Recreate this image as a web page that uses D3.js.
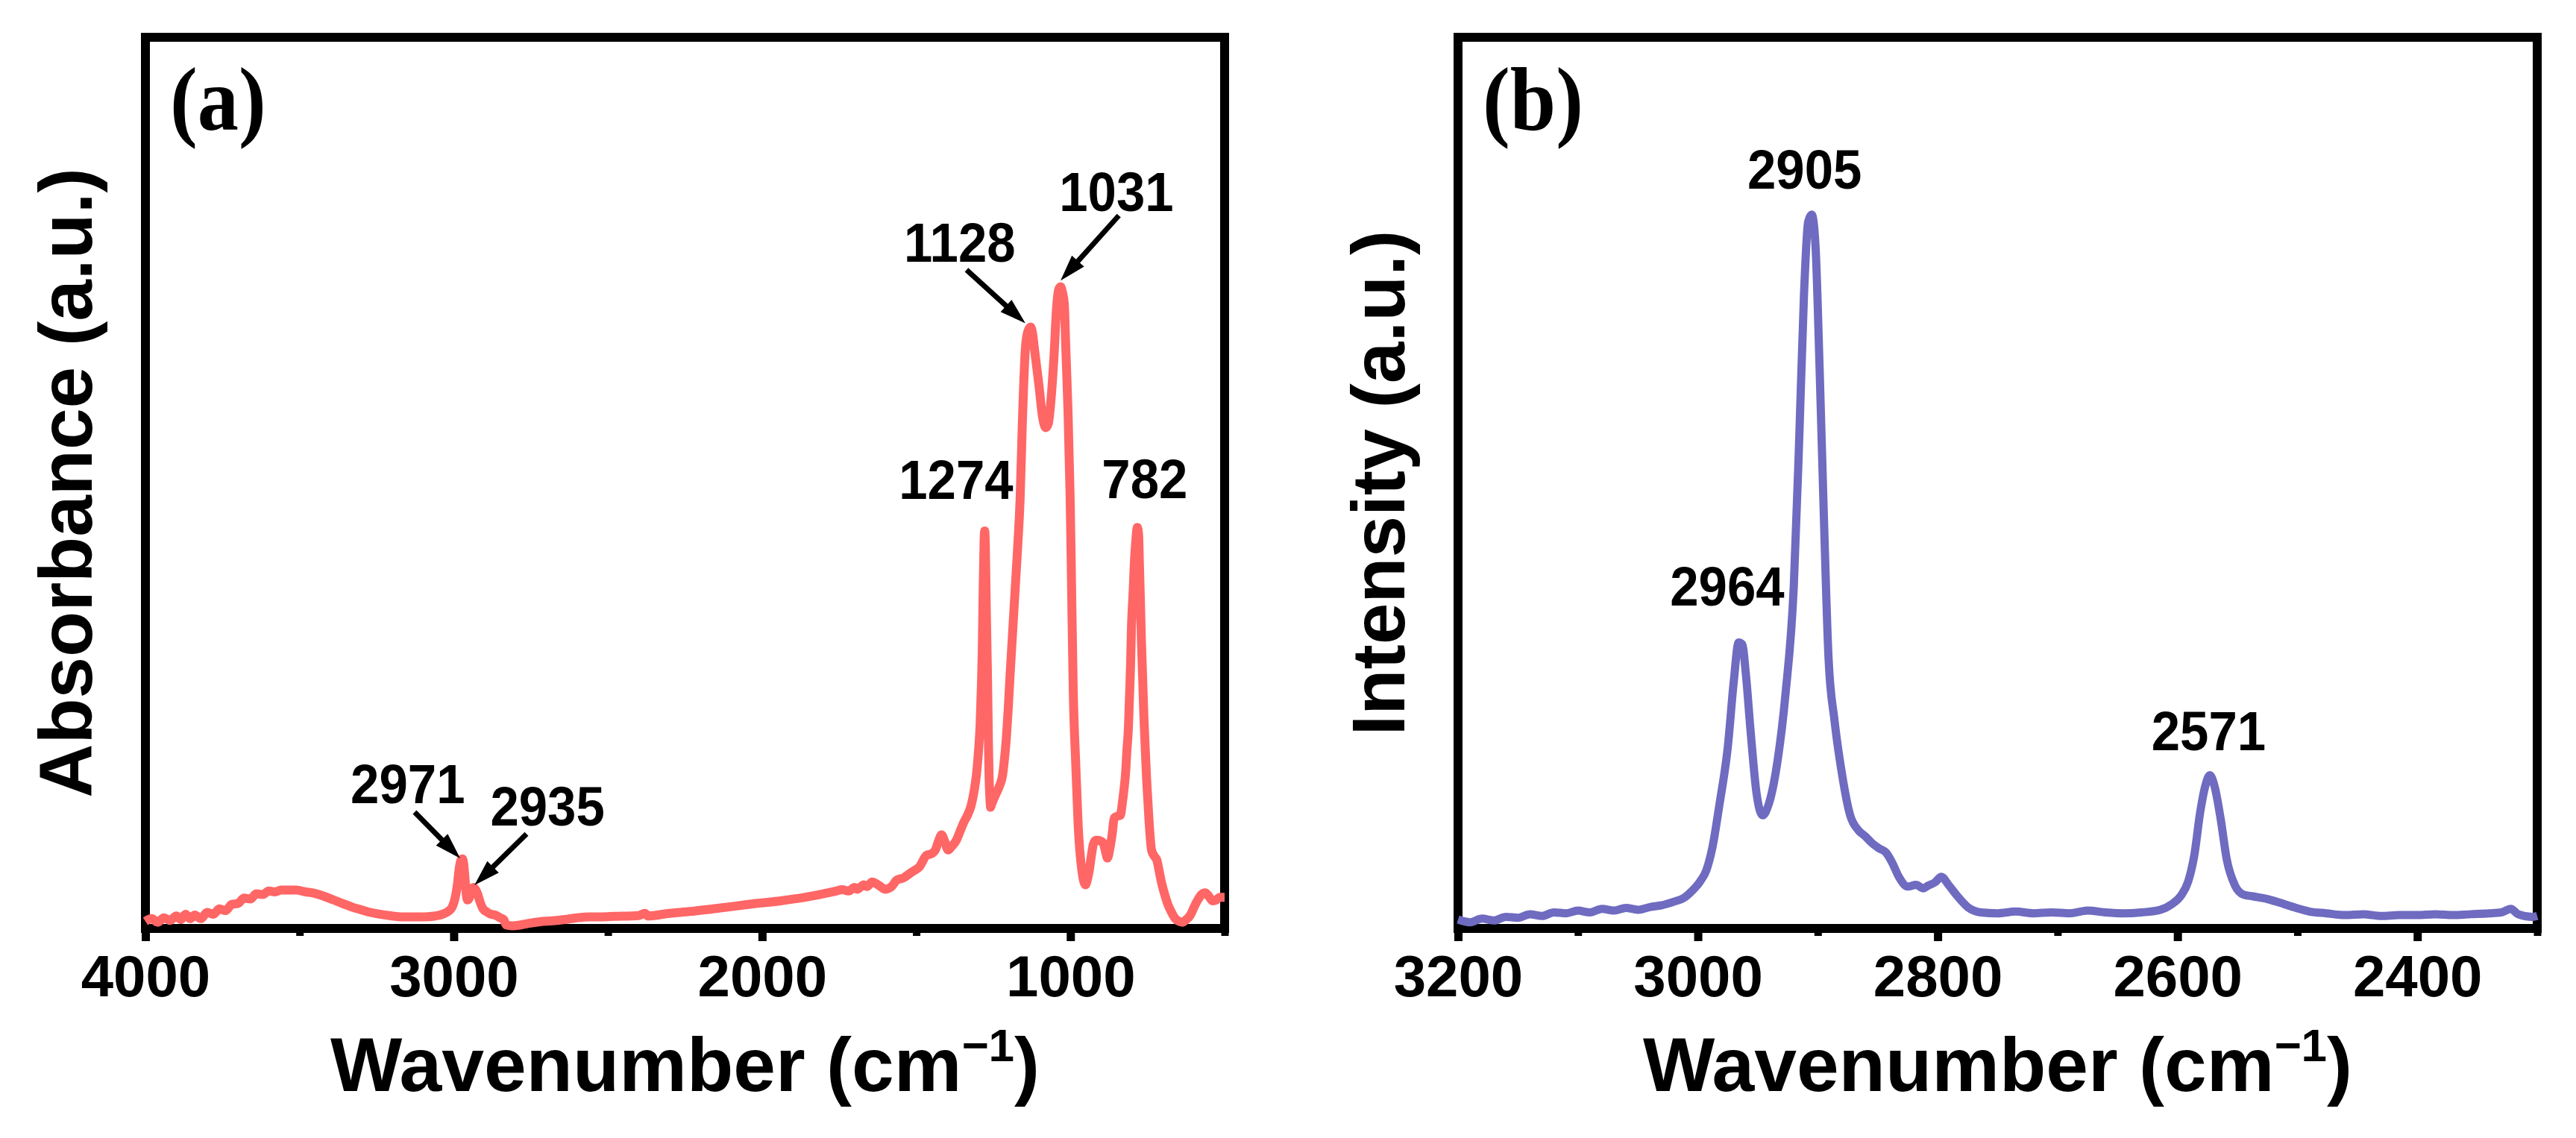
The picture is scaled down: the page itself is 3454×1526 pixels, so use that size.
<!DOCTYPE html>
<html><head><meta charset="utf-8">
<script src="https://cdn.jsdelivr.net/npm/d3@7"></script>
<style>body{margin:0;background:#fff}</style>
</head><body><svg id="c" width="3454" height="1526"></svg>
<script>
// ---------- DATA ----------
// (a) FTIR absorbance spectrum
const irWavenumber = [4000,3980,3960,3940,3920,3900,3885,3870,3855,3840,3820,3800,3780,3760,3740,3720,3700,3680,3660,3640,3620,3600,3580,3560,3540,3510,3480,3460,3420,3390,3360,3330,3300,3270,3240,3200,3170,3130,3094,3060,3036,3015,3005,2995,2988,2982,2976,2972,2968,2964,2960,2956,2950,2944,2936,2930,2922,2915,2905,2895,2880,2865,2850,2838,2830,2810,2790,2760,2720,2680,2640,2600,2560,2520,2480,2400,2380,2370,2300,2235,2160,2088,2020,1940,1860,1800,1760,1740,1720,1700,1692,1670,1660,1643,1620,1600,1580,1564,1540,1520,1506,1490,1467,1450,1438,1428,1418,1408,1397,1385,1370,1358,1346,1334,1322,1312,1305,1298,1293,1289,1286,1283,1280,1278,1276,1273,1269,1266,1264,1261,1259,1255,1248,1240,1230,1220,1214,1208,1202,1196,1190,1184,1178,1172,1163,1156,1146,1138,1129,1123,1117,1102,1090,1080,1072,1066,1054,1044,1038,1032,1026,1020,1015,1008,1001,998,995,991,983,975,963,951,945,939,932,926,918,911,902,894,886,880,872,865,858,848,838,832,826,821,817,812,809,805,802,797,793,788,783,779,776,773,770,766,762,757,753,749,743,737,728,720,712,705,695,684,672,660,648,636,624,611,599,587,575,563,551,539,527,515,500];
const irAbsorbance = [0.8,1.1,0.7,1.2,0.9,1.4,1.0,1.6,1.1,1.5,1.1,1.8,1.6,2.2,2.0,2.7,2.8,3.4,3.3,3.9,3.8,4.2,4.1,4.3,4.3,4.3,4.1,4.0,3.6,3.2,2.8,2.4,2.1,1.8,1.6,1.4,1.3,1.3,1.3,1.4,1.6,2.0,2.4,3.5,5.0,6.8,7.7,7.8,7.3,5.8,4.0,3.2,3.4,4.0,4.6,4.4,3.8,3.0,2.2,1.9,1.6,1.5,1.2,1.0,0.4,0.3,0.35,0.55,0.75,0.85,1.0,1.2,1.3,1.3,1.35,1.45,1.7,1.4,1.7,1.9,2.2,2.5,2.8,3.1,3.5,3.9,4.2,4.35,4.2,4.6,4.4,4.9,4.7,5.2,4.8,4.4,4.7,5.4,5.7,6.2,6.5,6.9,8.2,8.4,8.8,9.8,10.5,9.8,8.8,9.2,9.9,10.9,11.9,12.7,13.8,15.5,17.2,20.0,22.8,27.0,31.1,38.0,43.5,44.6,43.0,36.0,28.3,21.0,17.2,14.5,13.6,14.0,14.6,15.2,16.0,17.2,19.0,21.3,24.5,28.3,31.8,35.3,38.8,42.3,48.4,56.7,65.1,67.0,67.5,66.8,65.1,60.9,57.3,56.2,56.6,58.2,63.8,70.1,71.7,72.0,71.4,70.1,65.1,58.2,48.4,42.3,35.3,26.9,18.6,11.6,6.5,4.9,5.5,6.5,8.2,9.4,9.9,9.9,9.8,9.6,8.6,7.9,9.0,10.5,12.4,12.6,12.7,14.0,15.7,17.5,19.9,22.5,25.5,29.5,33.9,37.5,40.8,43.5,45.0,44.2,40.5,36.7,32.5,28.3,24.0,19.9,16.8,14.4,11.0,8.8,8.1,7.7,6.4,5.2,3.9,2.7,1.8,1.1,0.8,0.7,1.0,1.5,2.4,3.2,3.8,4.0,3.6,3.1,3.2,3.5,3.5];
const irMajorTicks = [4000,3000,2000,1000];
const irMinorTicks = [3500,2500,1500,500];
const irPeakText = ["2971","2935","1274","1128","1031","782"];
const irPeakLabelX = [3149,2696,1371,1359,851,759];
const irPeakLabelY = [14.06,11.55,48.2,74.8,80.5,48.3];
// arrows: [from wavenumber, from value, to wavenumber, to value]
const irArrowFromX = [3127,2764,1337,843];
const irArrowFromY = [13.05,10.6,73.9,80.0];
const irArrowToX = [2979,2933,1146,1032];
const irArrowToY = [7.87,4.85,67.9,72.7];

// (b) Raman spectrum
const ramanShift = [3200,3190,3180,3170,3160,3150,3140,3130,3120,3110,3100,3090,3080,3070,3060,3050,3040,3030,3020,3012,3005,2998,2993,2988,2982,2975,2970,2966,2963,2960,2956,2951,2946,2941,2934,2927,2920,2915.5,2911.5,2908,2905,2902,2898.5,2895,2891,2886,2880,2873,2866,2860,2855,2849,2843,2838,2832,2825,2818,2812,2808,2802,2797,2791,2784,2775,2764,2750,2735,2720,2705,2690,2675,2660,2645,2630,2614,2605,2597,2591,2586,2581,2577,2573,2569,2564,2559,2552,2545,2537,2525,2515,2501,2490,2476,2460,2445,2430,2415,2400,2385,2370,2355,2340,2330,2322,2316,2304,2300];
const ramanIntensity = [1.0,0.7,1.1,0.9,1.3,1.2,1.6,1.4,1.8,1.7,2.0,1.8,2.2,2.0,2.3,2.1,2.4,2.6,3.0,3.4,4.2,5.3,6.5,9.0,13.9,20.4,27.8,32.1,31.9,28.6,22.1,15.1,12.7,13.9,18.4,26.2,38.4,54.8,71.1,79.3,80.1,76.9,63.0,46.6,30.3,23.3,17.5,12.7,11.0,10.3,9.6,9.0,8.5,7.4,5.7,4.7,4.9,4.5,4.8,5.2,5.8,4.9,3.7,2.4,1.8,1.7,1.9,1.7,1.8,1.7,2.0,1.8,1.7,1.8,2.1,2.7,3.7,5.3,8.2,13.1,15.9,17.2,15.9,12.3,7.8,4.8,3.8,3.6,3.3,2.9,2.3,1.9,1.7,1.5,1.6,1.4,1.5,1.5,1.6,1.5,1.6,1.7,1.8,2.2,1.6,1.3,1.4];
const ramanMajorTicks = [3200,3000,2800,2600,2400];
const ramanMinorTicks = [3100,2900,2700,2500,2300];
const ramanPeakText = ["2964","2905","2571"];
const ramanPeakLabelX = [2975.5,2911,2574];
const ramanPeakLabelY = [36.2,83.0,20.0];

// ---------- DRAWING ----------
const svg = d3.select("#c");
svg.append("rect").attr("width",3454).attr("height",1526).attr("fill","#fff");
const SANS = "'Liberation Sans', Arial, Helvetica, sans-serif";
const SERIF = "'Liberation Serif', 'Times New Roman', serif";

function drawPanel(cfg){
  const g = svg.append("g");
  const x = d3.scaleLinear().domain(cfg.xDomain).range([cfg.left, cfg.right]);
  const y = d3.scaleLinear().domain([0,100]).range([cfg.bottom, cfg.top]);

  // frame
  g.append("rect").attr("x",cfg.left).attr("y",cfg.top)
    .attr("width",cfg.right-cfg.left).attr("height",cfg.bottom-cfg.top)
    .attr("fill","none").attr("stroke","#000").attr("stroke-width",12);

  // minor ticks
  const mn = g.append("g").attr("transform",`translate(0,${cfg.bottom})`)
    .call(d3.axisBottom(x).tickValues(cfg.minor).tickSize(10).tickFormat(""));
  mn.select(".domain").remove();
  mn.selectAll(".tick line").attr("stroke","#000").attr("stroke-width",10);
  mn.selectAll(".tick text").remove();

  // major ticks
  const mj = g.append("g").attr("transform",`translate(0,${cfg.bottom})`)
    .call(d3.axisBottom(x).tickValues(cfg.major).tickSize(17).tickFormat(d3.format("d")));
  mj.select(".domain").remove();
  mj.selectAll(".tick line").attr("stroke","#000").attr("stroke-width",11);
  mj.selectAll(".tick text").attr("y",91).attr("dy",0)
    .attr("font-family",SANS).attr("font-weight","bold").attr("font-size",78).attr("fill","#000");

  // spectrum line
  const pts = cfg.xs.map((v,i)=>[v,cfg.ys[i]]);
  g.append("path").datum(pts)
    .attr("d", d3.line().x(d=>x(d[0])).y(d=>y(d[1])).curve(d3.curveMonotoneX))
    .attr("fill","none").attr("stroke",cfg.color).attr("stroke-width",cfg.lw)
    .attr("stroke-linejoin","round");

  // peak labels
  cfg.labels.forEach((t,i)=>{
    g.append("text")
      .attr("transform",`translate(${x(cfg.labelX[i])},${y(cfg.labelY[i])}) scale(0.92,1)`)
      .attr("text-anchor","middle").attr("font-family",SANS).attr("font-weight","bold")
      .attr("font-size",75).attr("fill","#000").text(t);
  });

  // arrows
  (cfg.arrows||[]).forEach(a=>{
    const x1=x(a[0]), y1=y(a[1]), x2=x(a[2]), y2=y(a[3]);
    const dx=x2-x1, dy=y2-y1, L=Math.hypot(dx,dy), ux=dx/L, uy=dy/L;
    const hl=35, hw=11;
    const bx=x2-ux*hl, by=y2-uy*hl;
    g.append("line").attr("x1",x1).attr("y1",y1).attr("x2",bx+ux*3).attr("y2",by+uy*3)
      .attr("stroke","#000").attr("stroke-width",7);
    g.append("path").attr("d",`M${x2},${y2}L${bx-uy*hw},${by+ux*hw}L${bx+uy*hw},${by-ux*hw}Z`)
      .attr("fill","#000");
  });

  // panel letter
  g.append("text").attr("transform",`translate(${cfg.left+33},174) scale(0.92,1)`)
    .attr("font-family",SERIF).attr("font-weight","bold").attr("font-size",120)
    .attr("fill","#000").text(cfg.letter);

  // x title
  const xt = g.append("text").attr("x",(cfg.left+cfg.right)/2).attr("y",1463)
    .attr("text-anchor","middle").attr("font-family",SANS).attr("font-weight","bold")
    .attr("font-size",102).attr("fill","#000");
  xt.append("tspan").text("Wavenumber (cm");
  xt.append("tspan").attr("font-size",62).attr("dy",-40).text("\u22121");
  xt.append("tspan").attr("dy",40).text(")");

  // y title
  g.append("text").attr("transform",`translate(${cfg.left-72},${(cfg.top+cfg.bottom)/2}) rotate(-90)`)
    .attr("text-anchor","middle").attr("font-family",SANS).attr("font-weight","bold")
    .attr("font-size",100).attr("fill","#000").text(cfg.yTitle);
}

drawPanel({
  left:195, right:1642, top:50, bottom:1245,
  xDomain:[4000,500], major:irMajorTicks, minor:irMinorTicks,
  xs:irWavenumber, ys:irAbsorbance, color:"#FF6666", lw:12,
  labels:irPeakText, labelX:irPeakLabelX, labelY:irPeakLabelY,
  arrows:irArrowFromX.map((v,i)=>[v,irArrowFromY[i],irArrowToX[i],irArrowToY[i]]),
  letter:"(a)", yTitle:"Absorbance (a.u.)"
});
drawPanel({
  left:1955, right:3402, top:50, bottom:1245,
  xDomain:[3200,2300], major:ramanMajorTicks, minor:ramanMinorTicks,
  xs:ramanShift, ys:ramanIntensity, color:"#6F6BC0", lw:11,
  labels:ramanPeakText, labelX:ramanPeakLabelX, labelY:ramanPeakLabelY,
  arrows:[], letter:"(b)", yTitle:"Intensity (a.u.)"
});
</script></body></html>
